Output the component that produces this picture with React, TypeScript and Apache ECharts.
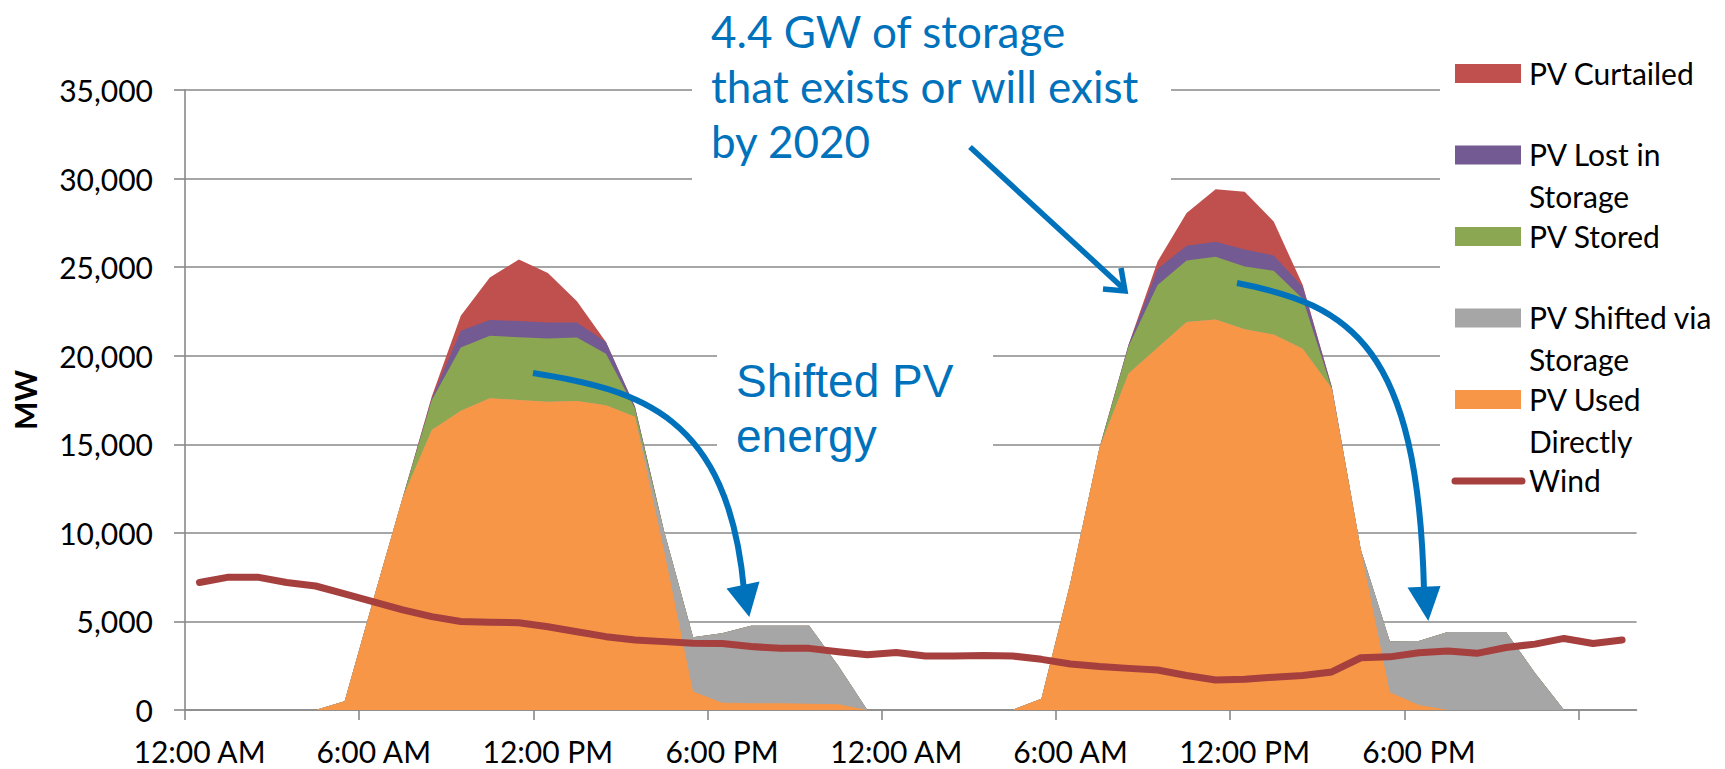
import React, { useEffect, useRef } from 'react';
import * as echarts from 'echarts';

// Two-day hourly horizon: index 0 = 12:00 AM of day one, 50 hourly samples.
const TIME_LABELS = ['12:00 AM', '6:00 AM', '12:00 PM', '6:00 PM', '12:00 AM', '6:00 AM', '12:00 PM', '6:00 PM'];
const LABEL_HOURS = [0, 6, 12, 18, 24, 30, 36, 42];
const TICK_HOURS = [0, 6, 12, 18, 24, 30, 36, 42, 48];
const Y_MAX = 35000;
const Y_STEP = 5000;

// MW by hour
const PV_USED = [
  0, 0, 0, 0, 0, 500, 6300, 12000, 15800, 16900, 17600, 17500,
  17400, 17450, 17200, 16550, 9000, 1050, 410, 380, 380, 350, 330, 0,
  0, 0, 0, 0, 0, 630, 7200, 14800, 19000, 20450, 21900, 22050,
  21500, 21200, 20400, 18150, 9050, 1000, 280, 0, 0, 0, 0, 0,
  0, 0,
];
const PV_SHIFTED = [
  0, 0, 0, 0, 0, 0, 0, 0, 0, 0, 0, 0,
  0, 0, 0, 0, 1100, 3050, 3920, 4380, 4380, 4410, 2170, 0,
  0, 0, 0, 0, 0, 0, 0, 0, 0, 0, 0, 0,
  0, 0, 0, 0, 0, 2870, 3620, 4400, 4400, 4400, 2090, 0,
  0, 0,
];
const PV_STORED = [
  0, 0, 0, 0, 0, 0, 0, 0, 1700, 3570, 3530, 3540,
  3570, 3580, 2910, 470, 0, 0, 0, 0, 0, 0, 0, 0,
  0, 0, 0, 0, 0, 0, 0, 0, 1530, 3540, 3480, 3530,
  3540, 3600, 2820, 0, 0, 0, 0, 0, 0, 0, 0, 0,
  0, 0,
];
const PV_LOST = [
  0, 0, 0, 0, 0, 0, 0, 0, 100, 940, 880, 920,
  900, 840, 660, 100, 0, 0, 0, 0, 0, 0, 0, 0,
  0, 0, 0, 0, 0, 0, 0, 0, 90, 910, 830, 860,
  960, 860, 670, 100, 0, 0, 0, 0, 0, 0, 0, 0,
  0, 0,
];
const PV_CURTAILED = [
  0, 0, 0, 0, 0, 0, 0, 0, 100, 840, 2410, 3470,
  2800, 1200, 0, 0, 0, 0, 0, 0, 0, 0, 0, 0,
  0, 0, 0, 0, 0, 0, 0, 0, 0, 420, 1850, 2960,
  3250, 1910, 100, 0, 0, 0, 0, 0, 0, 0, 0, 0,
  0, 0,
];
const WIND = [
  7200, 7500, 7500, 7200, 7000, 6550, 6100, 5650, 5270, 5000, 4960, 4930,
  4700, 4420, 4140, 3950, 3860, 3770, 3750, 3580, 3480, 3480, 3290, 3120,
  3250, 3050, 3050, 3080, 3050, 2860, 2600, 2450, 2350, 2260, 1950, 1690,
  1730, 1850, 1950, 2150, 2950, 3000, 3230, 3330, 3200, 3530, 3720, 4040,
  3750, 3950,
];

const COLORS = {
  curtailed: '#C0504D',
  lost: '#745A93',
  stored: '#8BA751',
  shifted: '#A6A6A6',
  used: '#F79646',
  wind: '#A5403E',
};
const BLUE = '#0072BC';
const GRID = '#898989';
const FONT = 'Lato';

// Stack order, bottom to top
const LAYERS = [
  { name: 'PV Used Directly', values: PV_USED, color: COLORS.used },
  { name: 'PV Shifted via Storage', values: PV_SHIFTED, color: COLORS.shifted },
  { name: 'PV Stored', values: PV_STORED, color: COLORS.stored },
  { name: 'PV Lost in Storage', values: PV_LOST, color: COLORS.lost },
  { name: 'PV Curtailed', values: PV_CURTAILED, color: COLORS.curtailed },
];

// Legend entries, top to bottom, with their wrapped text
const LEGEND = [
  { lines: ['PV Curtailed'], color: COLORS.curtailed, kind: 'box' },
  { lines: ['PV Lost in', 'Storage'], color: COLORS.lost, kind: 'box' },
  { lines: ['PV Stored'], color: COLORS.stored, kind: 'box' },
  { lines: ['PV Shifted via', 'Storage'], color: COLORS.shifted, kind: 'box' },
  { lines: ['PV Used', 'Directly'], color: COLORS.used, kind: 'box' },
  { lines: ['Wind'], color: COLORS.wind, kind: 'line' },
];

const toPoints = (values: number[]) => values.map((v, i) => [i + 0.5, v]);

function buildGraphic() {
  const els: any[] = [];

  // white backing boxes of the text frames
  els.push({ type: 'rect', z: 10, shape: { x: 692, y: 0, width: 479, height: 190 }, style: { fill: '#fff' } });
  els.push({ type: 'rect', z: 10, shape: { x: 717, y: 345, width: 276, height: 110 }, style: { fill: '#fff' } });
  els.push({ type: 'rect', z: 10, shape: { x: 1440, y: 55, width: 285, height: 460 }, style: { fill: '#fff' } });

  const text = (t: string, x: number, y: number, size: number, family: string, color: string, weight = 'normal') => ({
    type: 'text',
    z: 30,
    x,
    y,
    style: {
      text: t,
      fill: color,
      fontSize: size,
      fontFamily: family,
      fontWeight: weight,
      align: 'left',
      verticalAlign: 'middle',
      textAlign: 'left',
      textVerticalAlign: 'middle',
    },
  });

  // storage annotation
  ['4.4 GW of storage', 'that exists or will exist', 'by 2020'].forEach((t, k) => {
    els.push(text(t, 711, 31 + k * 55, 44, FONT, BLUE));
  });
  ['Shifted PV', 'energy'].forEach((t, k) => {
    els.push(text(t, 736, 381 + k * 55, 46, 'Liberation Sans', BLUE));
  });

  // arrows
  els.push({
    type: 'bezierCurve', z: 40,
    shape: { x1: 533, y1: 373, cpx1: 640, cpy1: 390, cpx2: 728, cpy2: 415, x2: 744, y2: 590 },
    style: { stroke: BLUE, lineWidth: 6, fill: null },
  });
  els.push({
    type: 'polygon', z: 40,
    shape: { points: [[726.5, 588.5], [759.5, 581.5], [749.3, 617]] },
    style: { fill: BLUE },
  });
  els.push({
    type: 'bezierCurve', z: 40,
    shape: { x1: 1237, y1: 283, cpx1: 1350, cpy1: 305, cpx2: 1418, cpy2: 345, x2: 1424, y2: 590 },
    style: { stroke: BLUE, lineWidth: 6, fill: null },
  });
  els.push({
    type: 'polygon', z: 40,
    shape: { points: [[1407.5, 587.5], [1440.5, 586], [1428.3, 621]] },
    style: { fill: BLUE },
  });
  els.push({
    type: 'line', z: 40,
    shape: { x1: 970, y1: 147, x2: 1124, y2: 289 },
    style: { stroke: BLUE, lineWidth: 5.5 },
  });
  els.push({
    type: 'polyline', z: 40,
    shape: { points: [[1103, 289], [1125, 291], [1121, 268]] },
    style: { stroke: BLUE, lineWidth: 5.5, fill: null, lineJoin: 'miter' },
  });

  // legend
  LEGEND.forEach((item, k) => {
    const cy = 73.5 + k * 81.5;
    if (item.kind === 'box') {
      els.push({ type: 'rect', z: 30, shape: { x: 1455, y: cy - 9.5, width: 66, height: 19 }, style: { fill: item.color } });
    } else {
      els.push({
        type: 'line', z: 30,
        shape: { x1: 1455, y1: cy, x2: 1522, y2: cy },
        style: { stroke: item.color, lineWidth: 7, lineCap: 'round' },
      });
    }
    item.lines.forEach((t, j) => {
      els.push(text(t, 1529, cy - 1 + j * 42, 30, FONT, '#000'));
    });
  });

  return els;
}

export default function App() {
  const ref = useRef<HTMLDivElement>(null);

  useEffect(() => {
    if (!ref.current) return;
    const chart = echarts.init(ref.current, undefined, { renderer: 'svg' });

    // running totals of the stacked PV layers
    const totals: number[][] = [];
    LAYERS.forEach((layer, k) => {
      totals.push(layer.values.map((v, i) => v + (k > 0 ? totals[k - 1][i] : 0)));
    });

    // top of the stack first, so each lower layer paints over the one above it
    const areaSeries = LAYERS.map((layer, k) => ({
      type: 'line',
      name: layer.name,
      data: toPoints(totals[k]),
      symbol: 'none',
      silent: true,
      lineStyle: { width: 0 },
      itemStyle: { color: layer.color },
      areaStyle: { color: layer.color, opacity: 1 },
    })).reverse();

    chart.setOption({
      animation: false,
      textStyle: { fontFamily: FONT },
      grid: { left: 185, top: 90, right: 88.4, bottom: 59, containLabel: false, outerBoundsMode: 'none' },
      xAxis: {
        type: 'value',
        min: 0,
        max: 50,
        splitLine: { show: false },
        axisLine: { show: true, onZero: false, lineStyle: { color: GRID, width: 1.6 } },
        axisTick: { show: true, customValues: TICK_HOURS, length: 10, lineStyle: { color: GRID, width: 1.6 } },
        axisLabel: {
          customValues: LABEL_HOURS.map((h) => h + 0.5),
          formatter: (v: number) => TIME_LABELS[LABEL_HOURS.indexOf(Math.round(v - 0.5))] ?? '',
          color: '#000',
          fontFamily: FONT,
          fontSize: 30,
          lineHeight: 30,
          margin: 26,
        },
      },
      yAxis: {
        type: 'value',
        min: 0,
        max: Y_MAX,
        interval: Y_STEP,
        name: 'MW',
        nameLocation: 'middle',
        nameGap: 145,
        nameTextStyle: { color: '#000', fontFamily: FONT, fontSize: 30, fontWeight: 'bold' },
        axisLine: { show: true, lineStyle: { color: GRID, width: 1.6 } },
        axisTick: { show: true, length: 11, lineStyle: { color: GRID, width: 1.6 } },
        splitLine: { show: true, lineStyle: { color: GRID, width: 1.6 } },
        axisLabel: {
          color: '#000',
          fontFamily: FONT,
          fontSize: 30,
          margin: 32,
          formatter: (v: number) => v.toLocaleString('en-US'),
        },
      },
      series: [
        ...areaSeries,
        {
          type: 'line',
          name: 'Wind',
          data: toPoints(WIND),
          symbol: 'none',
          silent: true,
          lineStyle: { color: COLORS.wind, width: 7, cap: 'round', join: 'round' },
          itemStyle: { color: COLORS.wind },
        },
      ],
      graphic: { elements: buildGraphic() },
    });

    return () => chart.dispose();
  }, []);

  return (
    <div
      ref={ref}
      style={{ position: 'fixed', left: 0, top: 0, width: 1725, height: 769, background: '#fff' }}
    />
  );
}
